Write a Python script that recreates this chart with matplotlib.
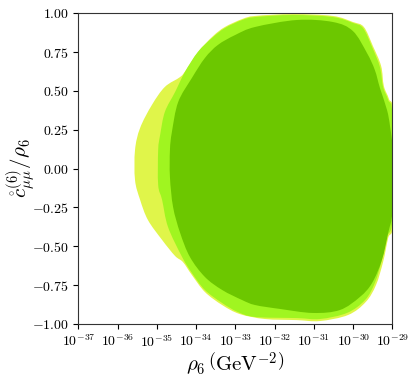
import numpy as np
import matplotlib
matplotlib.use("Agg")
import matplotlib.pyplot as plt
from matplotlib.path import Path
from matplotlib.patches import PathPatch
from matplotlib.ticker import FuncFormatter, NullLocator, LogLocator

plt.rcParams["mathtext.fontset"] = "cm"
plt.rcParams["font.family"] = "serif"
plt.rcParams["font.serif"] = ["cmr10", "DejaVu Serif"]
plt.rcParams["axes.formatter.use_mathtext"] = True

# allowed-region boundaries: (log10 rho_6, c/rho_6)
# outer region (light yellow)
outer_logrho = [-35.56, -35.56, -35.43, -35.13, -34.80, -34.41, -34.26, -33.93, -33.57,
                -33.27, -32.83, -32.50, -31.54, -30.52, -30.01, -29.73, -29.50, -29.29,
                -29.22, -29.09, -28.98, -28.98, -29.11, -29.24, -29.42, -29.68, -30.13,
                -30.85, -31.43, -32.25, -32.89, -33.34, -33.78, -34.11, -34.34, -34.54,
                -34.87, -35.23, -35.43]
outer_c = [-0.073, 0.120, 0.262, 0.410, 0.526, 0.590, 0.635, 0.757, 0.854,
           0.912, 0.963, 0.983, 0.995, 0.983, 0.944, 0.912, 0.790, 0.661,
           0.532, 0.448, 0.339, -0.331, -0.446, -0.601, -0.749, -0.858, -0.942,
           -0.981, -0.975, -0.968, -0.936, -0.878, -0.794, -0.685, -0.601, -0.562,
           -0.459, -0.331, -0.201]

# middle region (bright green)
mid_logrho = [-34.97, -34.97, -34.92, -34.80, -34.54, -34.29, -33.96, -33.60, -33.27,
              -32.83, -32.50, -31.54, -30.52, -30.01, -29.75, -29.52, -29.32, -29.24,
              -29.11, -29.00, -29.00, -29.14, -29.27, -29.45, -29.70, -30.16, -30.85,
              -31.43, -32.50, -32.94, -33.34, -33.78, -34.11, -34.36, -34.72, -34.87]
mid_c = [-0.105, 0.120, 0.217, 0.365, 0.493, 0.622, 0.751, 0.841, 0.905,
         0.957, 0.976, 0.989, 0.976, 0.938, 0.905, 0.783, 0.654, 0.526,
         0.442, 0.332, -0.311, -0.440, -0.588, -0.736, -0.846, -0.929, -0.968,
         -0.962, -0.955, -0.923, -0.865, -0.781, -0.672, -0.569, -0.375, -0.201]

# inner region (dark green)
inner_logrho = [-34.67, -34.67, -34.62, -34.46, -34.11, -33.78, -33.45, -33.01, -32.50,
                -31.43, -30.52, -30.01, -29.65, -29.45, -29.32, -29.14, -29.06, -29.00,
                -29.00, -29.11, -29.27, -29.52, -29.83, -30.34, -31.03, -31.87, -32.50,
                -32.83, -33.34, -33.78, -34.16, -34.41, -34.59]
inner_c = [-0.054, 0.120, 0.236, 0.429, 0.584, 0.712, 0.796, 0.860, 0.912,
           0.957, 0.944, 0.886, 0.744, 0.635, 0.519, 0.378, 0.268, 0.120,
           -0.266, -0.414, -0.588, -0.736, -0.826, -0.910, -0.929, -0.903, -0.878,
           -0.846, -0.781, -0.697, -0.569, -0.414, -0.247]

YELLOW = "#e0f54a"
BRIGHT = "#a0f520"
DARK = "#6cc700"


def smooth_patch(lx, y, color):
    # closed Catmull-Rom outline drawn as cubic Bezier segments (in log10 x)
    p = np.column_stack([lx, y])
    n = len(p)
    verts, codes = [p[0]], [Path.MOVETO]
    for i in range(n):
        p0, p1, p2, p3 = p[i - 1], p[i], p[(i + 1) % n], p[(i + 2) % n]
        verts += [p1 + (p2 - p0) / 6, p2 - (p3 - p1) / 6, p2]
        codes += [Path.CURVE4] * 3
    verts = np.array(verts)
    verts[:, 0] = 10.0 ** verts[:, 0]
    return PathPatch(Path(verts, codes), facecolor=color, edgecolor="none", lw=0)


fig = plt.figure(figsize=(4.16, 3.80), dpi=100)
ax = fig.add_axes([0.1887, 0.1474, 0.7548, 0.8176])

ax.add_patch(smooth_patch(outer_logrho, outer_c, YELLOW))
ax.add_patch(smooth_patch(mid_logrho, mid_c, BRIGHT))
ax.add_patch(smooth_patch(inner_logrho, inner_c, DARK))

ax.set_xscale("log")
ax.set_xlim(1e-37, 1e-29)
ax.set_ylim(-1, 1)
ax.xaxis.set_major_locator(LogLocator(base=10, numticks=20))
ax.xaxis.set_minor_locator(NullLocator())
ax.set_yticks(np.arange(-1, 1.01, 0.25))
ax.yaxis.set_major_formatter(FuncFormatter(lambda v, p: f"${v:.2f}$"))
ax.tick_params(axis="x", labelsize=10)
ax.tick_params(axis="y", labelsize=10)
for s in ax.spines.values():
    s.set_color("#333333")

ax.set_xlabel(r"$\rho_6\,\left(\mathrm{GeV}^{-2}\right)$", fontsize=15)
ax.set_ylabel(r"$\mathring{c}^{(6)}_{\mu\mu}/\rho_6$", fontsize=15)
ax.xaxis.set_label_coords(0.5, -0.085)
ax.yaxis.set_label_coords(-0.13, 0.5)

fig.savefig("out.png", dpi=100)
